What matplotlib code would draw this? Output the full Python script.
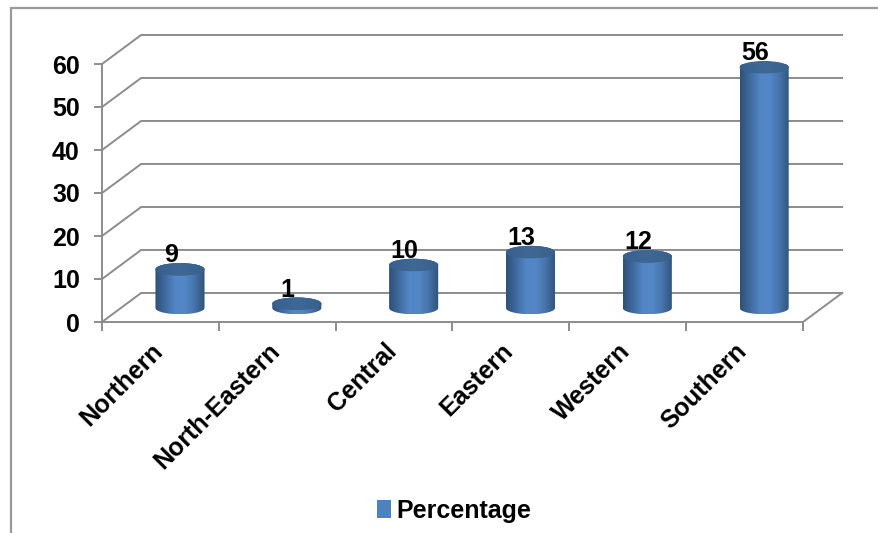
import numpy as np
import matplotlib
matplotlib.use('Agg')
import matplotlib.pyplot as plt
from matplotlib.colors import LinearSegmentedColormap
from matplotlib.lines import Line2D
from matplotlib.patches import Ellipse, Patch, PathPatch
from matplotlib.path import Path

regions = ['Northern', 'North-Eastern', 'Central', 'Eastern', 'Western', 'Southern']
percentage = [9, 1, 10, 13, 12, 56]
y_ticks = [0, 10, 20, 30, 40, 50, 60]

W, H = 879, 533
GRID = '#8c8c8c'
FRAME = '#9a9a9a'
DEPTH_X = 0.335    # floor depth, in categories
DEPTH_Y = 6.75     # floor depth, in value units
CYL_W = 0.42
CYL_H = 1.45
CYL_BASE = 3.25
FS = 18

plt.rcParams['font.family'] = ['Liberation Sans', 'DejaVu Sans']
plt.rcParams['font.weight'] = 'bold'

fig = plt.figure(figsize=(W / 100, H / 100), dpi=100)
ax = fig.add_axes([102 / W, 1 - 322 / H, 701 / W, 258 / H])

cyl_cmap = LinearSegmentedColormap.from_list(
    'cyl', ['#2f5075', '#3f6a9f', '#5285c4', '#5387c8', '#4672a8', '#2f5278'])
top_cmap = LinearSegmentedColormap.from_list('top', ['#37608f', '#3f6896', '#38608c'])

# back wall and side wall gridlines
for v in y_ticks:
    ax.plot([0, DEPTH_X, 6 + DEPTH_X], [v, v + DEPTH_Y, v + DEPTH_Y],
            color=GRID, lw=1.4, clip_on=False, zorder=1, solid_joinstyle='miter')
ax.plot([6, 6 + DEPTH_X], [0, DEPTH_Y], color=GRID, lw=1.4, clip_on=False, zorder=1)


def draw_cylinder(cx, base, top):
    t = np.linspace(np.pi, 2 * np.pi, 60)
    low_x = cx + CYL_W / 2 * np.cos(t)
    low_y = base + CYL_H * np.sin(t)
    up_x = cx + CYL_W / 2 * np.cos(t[::-1])
    up_y = top - CYL_H * np.sin(t[::-1])
    verts = np.column_stack([np.r_[low_x, up_x], np.r_[low_y, up_y]])
    body = PathPatch(Path(verts), transform=ax.transData, fc='none', ec='none')
    ax.add_patch(body)
    grad = np.linspace(0, 1, 256).reshape(1, -1)
    im = ax.imshow(grad, cmap=cyl_cmap, aspect='auto', zorder=3,
                   extent=[cx - CYL_W / 2, cx + CYL_W / 2, base - CYL_H, top + CYL_H])
    im.set_clip_path(body)
    lid = Ellipse((cx, top), CYL_W, 2 * CYL_H, fc='#3d6694', ec='none', zorder=4, clip_on=False)
    ax.add_patch(lid)
    im2 = ax.imshow(grad, cmap=top_cmap, aspect='auto', zorder=4,
                    extent=[cx - CYL_W / 2, cx + CYL_W / 2, top - CYL_H, top + CYL_H])
    im2.set_clip_path(lid)


for i, val in enumerate(percentage):
    cx = i + 0.5 + DEPTH_X / 2
    draw_cylinder(cx, CYL_BASE, CYL_BASE + val)
    ax.text(cx - 0.08, CYL_BASE + val + 3.3, str(val), ha='center', va='center',
            fontsize=FS, color='black', zorder=5)

ax.set_xlim(0, 6)
ax.set_ylim(0, 60)
ax.set_facecolor('none')
for side in ['top', 'right']:
    ax.spines[side].set_visible(False)
for side in ['left', 'bottom']:
    ax.spines[side].set_color(GRID)
    ax.spines[side].set_linewidth(1.4)
ax.set_yticks(y_ticks)
ax.set_xticks(range(7))
ax.set_xticklabels([])
ax.tick_params(axis='y', length=6, width=1.4, color=GRID, labelsize=FS, pad=10)
ax.tick_params(axis='x', length=6.5, width=1.4, color=GRID)

# category labels sit between the tick marks
for i, name in enumerate(regions):
    ax.annotate(name, xy=(i + 0.5, 0), xytext=(-7, -12), textcoords='offset points',
                xycoords='data', rotation=45, ha='right', va='top',
                rotation_mode='anchor', fontsize=FS, annotation_clip=False)

# outer chart frame, open to the right and bottom
fig.add_artist(Line2D([10.5 / W, 10.5 / W, 1], [0, 1 - 8 / H, 1 - 8 / H],
                      color=FRAME, lw=1.6, solid_joinstyle='miter'))

fig.legend(handles=[Patch(fc='#4f81bd', ec='none', label='Percentage')],
           loc='center', bbox_to_anchor=(454 / W, 1 - 511 / H), frameon=False,
           fontsize=FS, handlelength=0.55, handleheight=0.75, handletextpad=0.22)

fig.savefig('out.png', dpi=100, facecolor='white')
